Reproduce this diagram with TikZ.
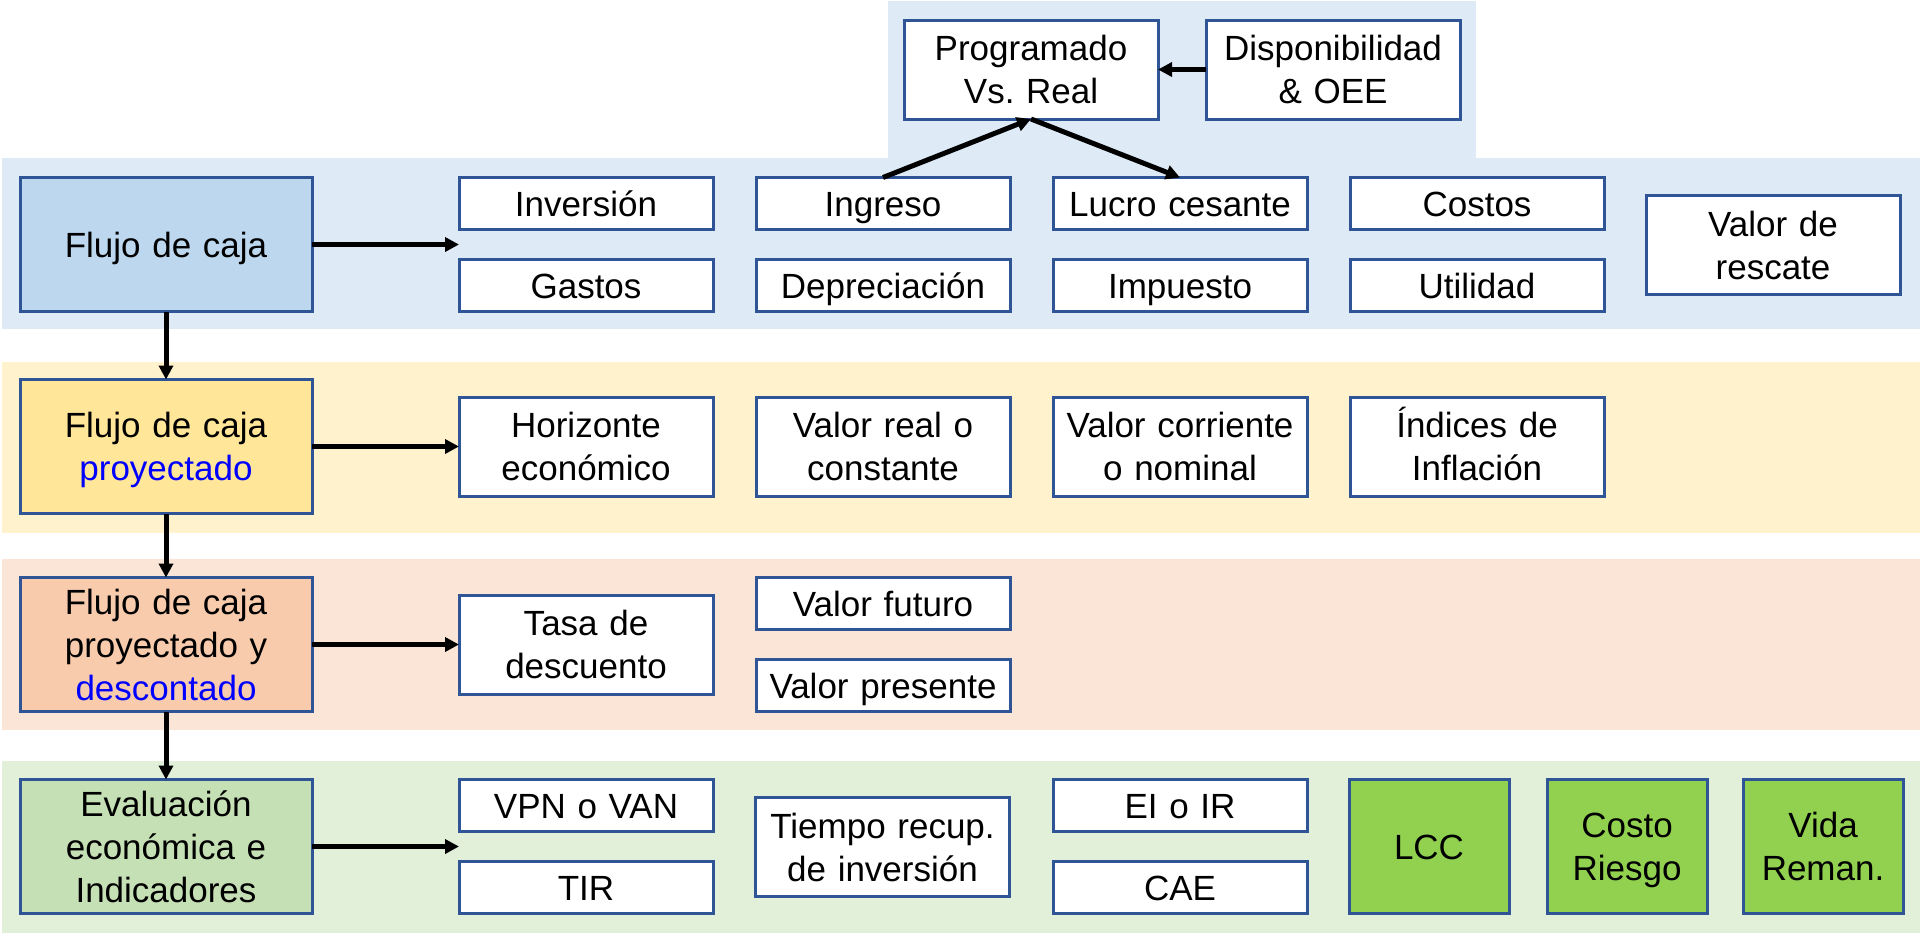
\documentclass[tikz,border=0pt]{standalone}
\usepackage{fontspec}
\setmainfont{Liberation Sans}
\usepackage{tikz}
\usetikzlibrary{arrows.meta,positioning,calc}
\usepackage{xcolor}
\definecolor{bandblue}{HTML}{DEEBF7}
\definecolor{bandyellow}{HTML}{FFF2CC}
\definecolor{bandpeach}{HTML}{FBE5D6}
\definecolor{bandgreen}{HTML}{E2F0D9}
\definecolor{mainblue}{HTML}{BDD7EE}
\definecolor{mainyellow}{HTML}{FFE699}
\definecolor{mainpeach}{HTML}{F8CBAD}
\definecolor{maingreen}{HTML}{C5E0B4}
\definecolor{lccgreen}{HTML}{92D050}
\definecolor{edgeblue}{HTML}{2F5597}
\definecolor{textblue}{HTML}{0000FF}
\newcommand{\boxstrut}{\rule[-3.7pt]{0pt}{20pt}}
\frenchspacing

\begin{document}
\begin{tikzpicture}[
    x=0.5pt, y=-0.5pt,
    box/.style={rectangle, draw=edgeblue, line width=1.5pt, fill=white,
                align=center, text width=127pt, inner sep=0pt, outer sep=0pt,
                minimum width=127pt, minimum height=26pt,
                font=\fontsize{17.5}{21.5}\selectfont,
                execute at begin node=\boxstrut, execute at end node=\boxstrut},
    tallbox/.style={box, minimum height=49.5pt},
    mainbox/.style={box, text width=146pt, minimum width=146pt, minimum height=67pt},
    lccbox/.style={box, fill=lccgreen, text width=80pt, minimum width=80pt,
                   minimum height=67pt},
    flow/.style={-{Triangle[length=7pt, width=7pt]}, line width=2.5pt},
    >=Stealth
  ]
  \useasboundingbox (0,0) rectangle (1920,933);

  %% Bands
  \fill[bandblue] (888,1) rectangle (1476,158);
  \fill[bandblue] (2,158) rectangle (1920,329);
  \fill[bandyellow] (2,362) rectangle (1920,533);
  \fill[bandpeach] (2,559) rectangle (1920,730);
  \fill[bandgreen] (2,761) rectangle (1920,933);

  %% Main column
  \node[mainbox, fill=mainblue] (fc) at (166,244.5) {Flujo de caja};
  \node[mainbox, fill=mainyellow, below=34pt of fc] (fcp)
        {Flujo de caja\\\textcolor{textblue}{proyectado}};
  \node[mainbox, fill=mainpeach, below=32pt of fcp] (fcpd)
        {Flujo de caja\\proyectado y\\\textcolor{textblue}{descontado}};
  \node[mainbox, fill=maingreen, below=34pt of fcpd] (eval)
        {Evaluación\\económica e\\Indicadores};

  %% Top
  \node[tallbox] (prog) at (1031,69.5) {Programado\\Vs. Real};
  \node[tallbox, right=24pt of prog] (disp) {Disponibilidad\\\& OEE};

  %% Row 1
  \node[box, anchor=north west] (inv) at (fc.north -| 459,0) {Inversión};
  \node[box, right=21.5pt of inv] (ing) {Ingreso};
  \node[box, right=21.5pt of ing] (lucro) {Lucro cesante};
  \node[box, right=21.5pt of lucro] (cost) {Costos};
  \node[box, below=15pt of inv] (gast) {Gastos};
  \node[box, below=15pt of ing] (depr) {Depreciación};
  \node[box, below=15pt of lucro] (imp) {Impuesto};
  \node[box, below=15pt of cost] (util) {Utilidad};
  \node[tallbox] (resc) at (1773,245) {Valor de\\rescate};

  %% Row 2
  \node[tallbox, right=73.5pt of fcp] (hor) {Horizonte\\económico};
  \node[tallbox, right=21.5pt of hor] (vreal) {Valor real o\\constante};
  \node[tallbox, right=21.5pt of vreal] (vcorr) {Valor corriente\\o nominal};
  \node[tallbox, right=21.5pt of vcorr] (ind) {Índices de\\Inflación};

  %% Row 3
  \node[tallbox, right=73.5pt of fcpd] (tasa) {Tasa de\\descuento};
  \node[box, anchor=north west] (vfut) at (fcpd.north -| 756,0) {Valor futuro};
  \node[box, below=15pt of vfut] (vpres) {Valor presente};

  %% Row 4
  \node[box, anchor=north west] (vpn) at (eval.north -| 459,0) {VPN o VAN};
  \node[box, below=15pt of vpn] (tir) {TIR};
  \node[tallbox] (trec) at (882.5,847) {Tiempo recup.\\de inversión};
  \node[box, anchor=north west] (eir) at (eval.north -| 1053,0) {EI o IR};
  \node[box, below=15pt of eir] (cae) {CAE};
  \node[lccbox, anchor=north west] (lcc) at (eval.north -| 1349,0) {LCC};
  \node[lccbox, right=19pt of lcc] (criesgo) {Costo\\Riesgo};
  \node[lccbox, right=18pt of criesgo] (vida) {Vida\\Reman.};

  %% Arrows
  \draw[flow] (fc.east) -- (fc.east -| inv.west);
  \draw[flow] (fcp) -- (hor);
  \draw[flow] (fcpd) -- (tasa);
  \draw[flow] (eval.east) -- (eval.east -| vpn.west);
  \draw[flow] (fc) -- (fcp);
  \draw[flow] (fcp) -- (fcpd);
  \draw[flow] (fcpd) -- (eval);
  \draw[flow] (disp) -- (prog);
  \draw[flow] (ing.north) -- (prog.south);
  \draw[flow] (prog.south) -- (lucro.north);

\end{tikzpicture}
\end{document}
